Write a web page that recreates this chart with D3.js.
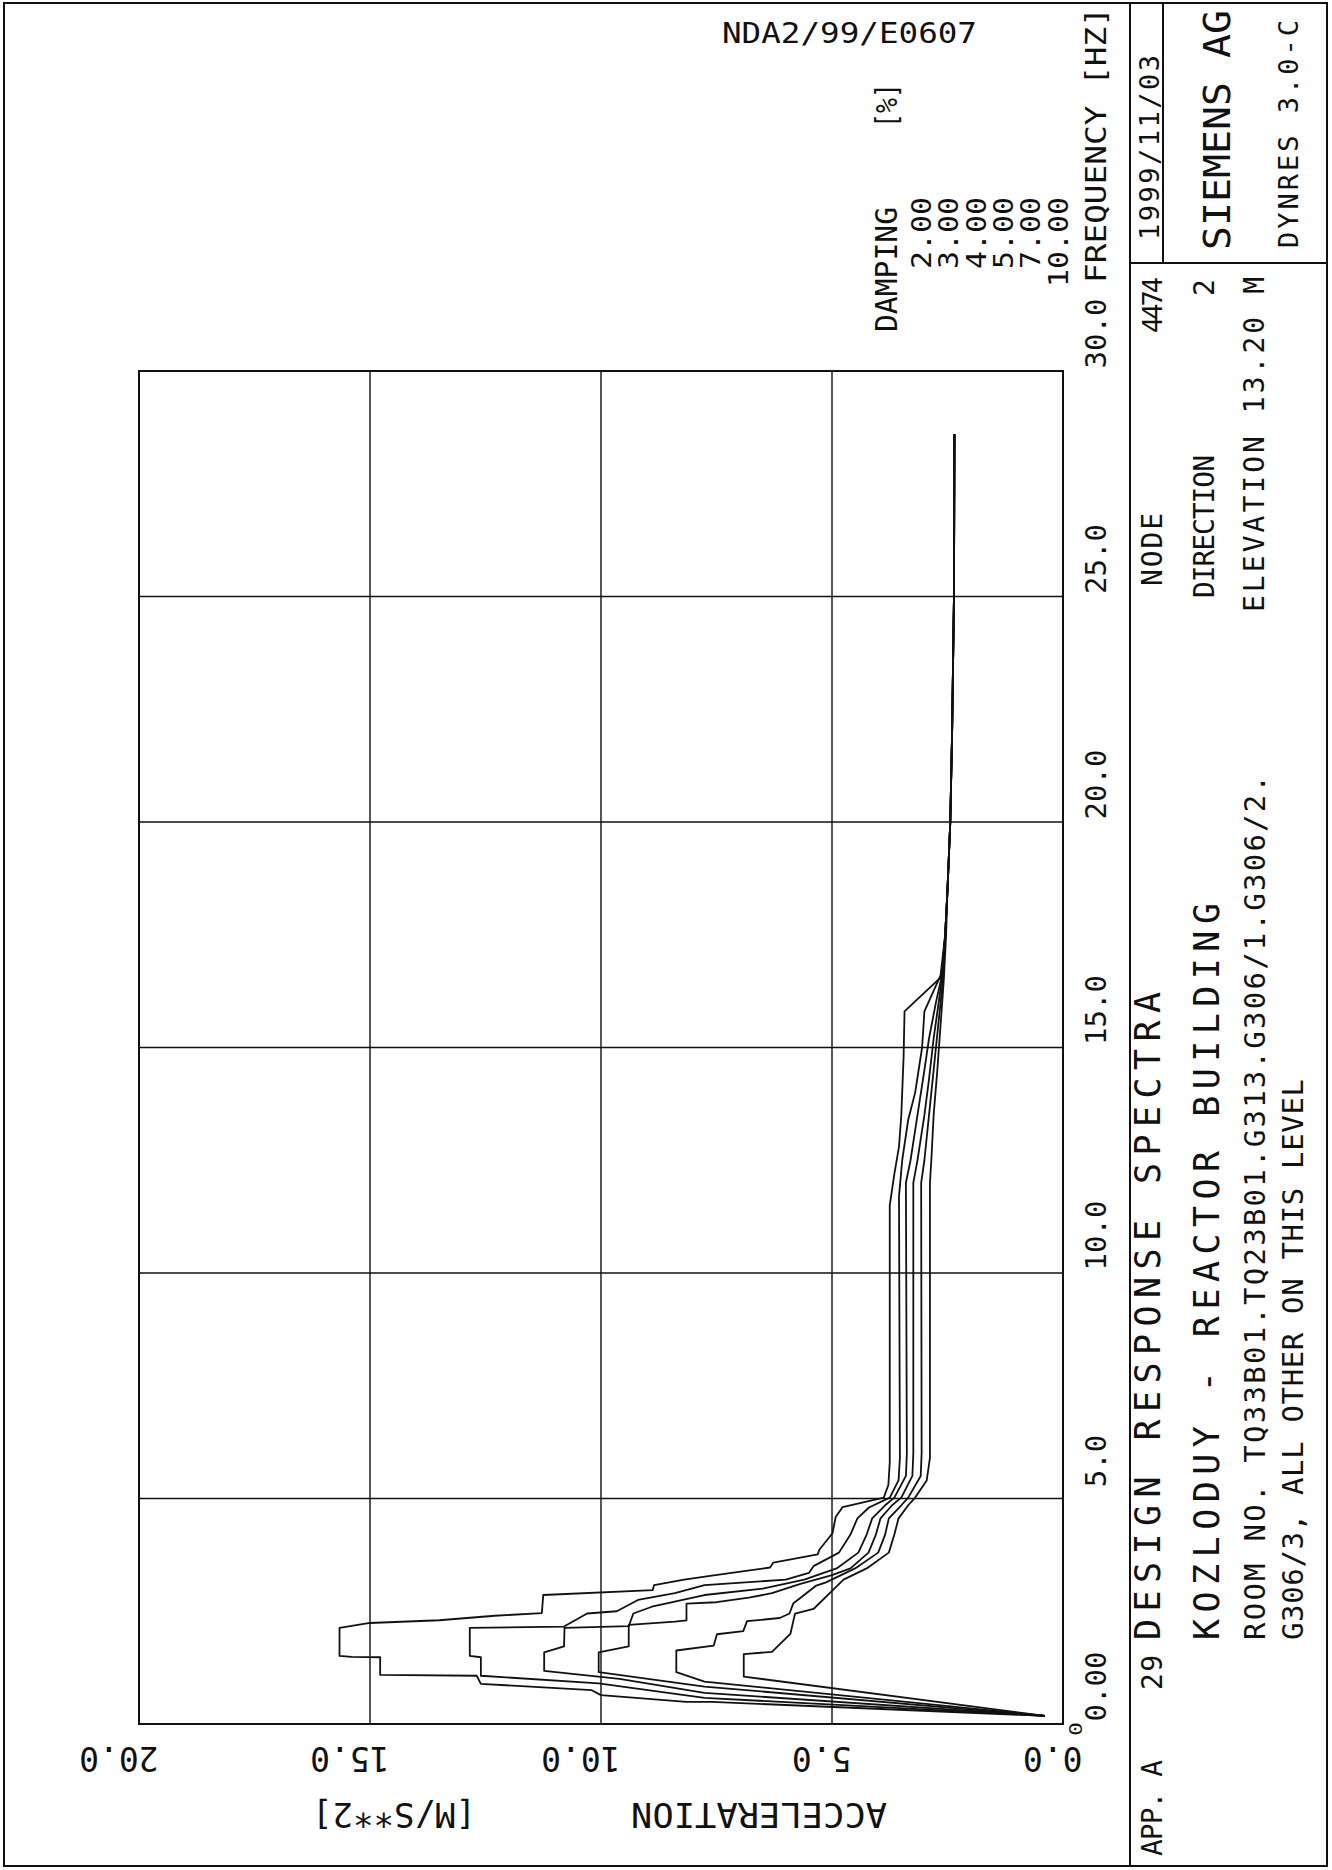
<!DOCTYPE html>
<html>
<head>
<meta charset="utf-8">
<script src="https://cdn.jsdelivr.net/npm/d3@7"></script>
<style>
  html, body { margin: 0; padding: 0; background: #fff; }
  svg { display: block; }
  text { font-family: "DejaVu Sans Mono", "Liberation Mono", monospace; fill: #111; }
</style>
</head>
<body>
<svg id="sheet" width="1332" height="1870"></svg>
<script>
// ---- tick values and labels ----
const FREQ_TICKS  = [0, 5, 10, 15, 20, 25, 30];
const FREQ_LABELS = ["0.00", "5.0", "10.0", "15.0", "20.0", "25.0", "30.0"];
const ACC_TICKS   = [0, 5, 10, 15, 20];
const ACC_LABELS  = ["0.0", "5.0", "10.0", "15.0", "20.0"];
const DAMPING     = ["2.00", "3.00", "4.00", "5.00", "7.00", "10.00"];

// ---- response spectra, [frequency Hz, acceleration m/s^2] ----
const SA_D2 = [[0.18,0.39],[0.49,7.6],[0.49,8.15],[0.64,10.0],[0.75,10.2],[0.89,12.6],[1.07,12.69],[1.09,14.78],[1.48,14.78],[1.49,15.4],[1.51,15.66],[2.13,15.66],[2.24,15.0],[2.3,13.5],[2.4,12.3],[2.46,11.28],[2.86,11.25],[2.97,8.88],[3.08,8.85],[3.2,8.2],[3.29,7.6],[3.47,6.34],[3.58,6.27],[3.76,5.31],[3.87,5.27],[4.23,4.99],[4.59,4.92],[4.81,4.77],[5.02,3.88],[5.3,3.78],[5.8,3.75],[11.5,3.75],[12.2,3.65],[12.8,3.55],[13.5,3.5],[14.8,3.45],[15.8,3.43],[16.6,2.6],[17.5,2.55],[18.5,2.5],[20,2.44],[22,2.4],[25,2.36],[28.6,2.35]];
const SA_D3 = [[0.18,0.39],[0.58,7.76],[0.9,10.05],[1.07,12.6],[1.48,12.6],[1.51,12.84],[2.13,12.84],[2.16,10.8],[2.45,10.3],[2.5,9.66],[2.75,9.2],[2.9,8.4],[3.08,7.76],[3.2,6.0],[3.35,5.5],[3.5,5.4],[3.8,4.85],[4.2,4.6],[4.56,4.45],[4.8,4.2],[5.02,3.75],[5.4,3.56],[5.9,3.53],[11.7,3.55],[12.5,3.48],[13.4,3.35],[14,3.2],[15,3.05],[15.8,3.0],[16.6,2.65],[17.5,2.55],[18.5,2.5],[20,2.44],[22,2.4],[25,2.36],[28.6,2.35]];
const SA_D4 = [[0.18,0.39],[0.69,7.76],[1.0,9.6],[1.18,11.23],[1.59,11.23],[1.72,10.8],[2.13,10.79],[2.17,9.4],[2.45,9.3],[2.6,8.9],[2.86,7.76],[3.0,6.5],[3.2,5.6],[3.45,4.9],[3.8,4.43],[4.2,4.25],[4.56,4.13],[4.85,3.85],[5.02,3.65],[5.5,3.4],[6.0,3.38],[12.0,3.4],[12.5,3.3],[13.5,3.15],[14.5,3.0],[15.2,2.9],[16.0,2.75],[16.6,2.62],[17.5,2.55],[18.5,2.5],[20,2.44],[22,2.4],[25,2.36],[28.6,2.35]];
const SA_D5 = [[0.18,0.39],[0.83,7.76],[1.15,10.05],[1.59,10.05],[1.72,9.4],[2.2,9.4],[2.27,8.4],[2.3,8.15],[2.67,8.15],[2.7,7.5],[2.8,6.8],[2.9,6.3],[3.1,5.7],[3.3,5.0],[3.45,4.6],[3.8,4.21],[4.2,4.05],[4.56,3.95],[4.85,3.7],[5.02,3.5],[5.5,3.26],[6.0,3.24],[12.0,3.24],[12.5,3.15],[13.5,3.0],[14.3,2.9],[15.2,2.8],[16.3,2.65],[17.5,2.55],[18.5,2.5],[20,2.44],[22,2.4],[25,2.36],[28.6,2.35]];
const SA_D7 = [[0.18,0.39],[0.94,7.76],[1.15,8.37],[1.63,8.37],[1.74,7.56],[1.99,7.49],[2.06,6.92],[2.28,6.84],[2.35,6.13],[2.45,5.92],[2.67,5.84],[3.07,5.34],[3.14,5.13],[3.45,4.5],[3.8,4.0],[4.2,3.85],[4.56,3.77],[4.85,3.5],[5.02,3.35],[5.5,3.08],[6.0,3.06],[12.0,3.07],[12.5,3.0],[13.5,2.9],[14.5,2.8],[15.5,2.7],[16.5,2.6],[17.5,2.55],[18.5,2.5],[20,2.44],[22,2.4],[25,2.36],[28.6,2.35]];
const SA_D10 = [[0.18,0.39],[1.05,6.91],[1.55,6.91],[1.6,6.3],[1.8,6.1],[2.0,5.9],[2.45,5.8],[2.55,5.4],[3.0,4.95],[3.2,4.75],[3.45,4.25],[3.8,3.77],[4.2,3.65],[4.56,3.56],[4.85,3.35],[5.02,3.2],[5.4,2.95],[5.9,2.88],[12.0,2.88],[12.5,2.85],[13.5,2.8],[14.5,2.72],[15.5,2.65],[16.5,2.58],[17.5,2.53],[18.5,2.5],[20,2.44],[22,2.4],[25,2.36],[28.6,2.35]];

const SPECTRA = [SA_D2, SA_D3, SA_D4, SA_D5, SA_D7, SA_D10];

// ---- sheet ----
const svg = d3.select("#sheet");
svg.append("rect").attr("width", 1332).attr("height", 1870).attr("fill", "#fff");

const ink = "#111";

// The plot is laid out sideways: frequency runs up the sheet, acceleration runs right-to-left.
const x = d3.scaleLinear().domain([0, 20]).range([1063, 139]);
const y = d3.scaleLinear().domain([0, 30]).range([1724, 371]);

const plot = svg.append("g");

// grid
plot.selectAll("line.vgrid").data(ACC_TICKS.filter(v => v > 0 && v < 20)).join("line")
  .attr("x1", d => x(d)).attr("x2", d => x(d))
  .attr("y1", y(0)).attr("y2", y(30))
  .attr("stroke", ink).attr("stroke-width", 1.4);
plot.selectAll("line.hgrid").data(FREQ_TICKS.filter(v => v > 0 && v < 30)).join("line")
  .attr("x1", x(20)).attr("x2", x(0))
  .attr("y1", d => y(d)).attr("y2", d => y(d))
  .attr("stroke", ink).attr("stroke-width", 1.5);
plot.append("rect")
  .attr("x", x(20)).attr("y", y(30))
  .attr("width", x(0) - x(20)).attr("height", y(0) - y(30))
  .attr("fill", "none").attr("stroke", ink).attr("stroke-width", 2);

// spectra
const line = d3.line().x(d => x(d[1])).y(d => y(d[0]));
plot.selectAll("path.sa").data(SPECTRA).join("path")
  .attr("class", "sa")
  .attr("d", line)
  .attr("fill", "none").attr("stroke", ink)
  .attr("stroke-width", 1.8).attr("stroke-linejoin", "round");

// frequency axis labels (rotated, read bottom-to-top)
const fAxis = d3.axisRight(y).tickValues(FREQ_TICKS)
  .tickFormat((d, i) => FREQ_LABELS[i]).tickSize(0);
const fg = svg.append("g").attr("transform", "translate(1106,0)").call(fAxis);
fg.select(".domain").remove();
fg.selectAll("text")
  .attr("x", 0).attr("y", 0).attr("dy", 0)
  .attr("transform", "translate(0,-38) rotate(-90)")
  .attr("text-anchor", "middle")
  .style("font-size", "29px")
  .attr("fill", ink);

// acceleration axis labels (printed upside-down)
const aAxis = d3.axisBottom(x).tickValues(ACC_TICKS)
  .tickFormat((d, i) => ACC_LABELS[i]).tickSize(0);
const ag = svg.append("g").attr("transform", "translate(0,1747)").call(aAxis);
ag.select(".domain").remove();
ag.selectAll("text")
  .attr("x", 0).attr("y", 0).attr("dy", 0)
  .attr("transform", "translate(19,0) rotate(180)")
  .attr("text-anchor", "start")
  .style("font-size", "33px")
  .attr("fill", ink);

// helpers for lettering: rotated text from y0 (start) up to y1 (end)
function rtext(str, bx, y0, y1, size, adjust) {
  return svg.append("text")
    .attr("transform", `translate(${bx},${y0}) rotate(-90)`)
    .attr("textLength", y0 - y1).attr("lengthAdjust", adjust || "spacing")
    .style("font-size", size + "px").text(str);
}
function utext(str, x0, x1, by, size) {
  return svg.append("text")
    .attr("transform", `translate(${x0},${by}) rotate(180)`)
    .attr("textLength", x0 - x1).attr("lengthAdjust", "spacingAndGlyphs")
    .style("font-size", size + "px").text(str);
}

utext("ACCELERATION", 887, 631, 1803, 33);
utext("[M/S**2]", 476, 312, 1803, 33);
rtext("0", 1082, 1736, 1722, 17, "spacingAndGlyphs");

rtext("FREQUENCY [HZ]", 1106, 283, 7, 29, "spacingAndGlyphs");

// damping legend
rtext("DAMPING", 897, 332, 207, 30, "spacingAndGlyphs");
rtext("[%]", 897, 128, 83, 30, "spacingAndGlyphs");
DAMPING.forEach((d, i) => {
  rtext(d, 931 + 27.3 * i, 197 + d.length * 18, 197, 27, "spacingAndGlyphs");
});

// drawing number
svg.append("text").attr("x", 722).attr("y", 43)
  .attr("textLength", 255).attr("lengthAdjust", "spacingAndGlyphs")
  .style("font-size", "29px").text("NDA2/99/E0607");

// ---- sheet border and title block ----
const frame = svg.append("g").attr("stroke", ink).attr("stroke-width", 2).attr("fill", "none");
frame.append("rect").attr("x", 4).attr("y", 3).attr("width", 1323).attr("height", 1863);
frame.append("line").attr("x1", 1130).attr("x2", 1130).attr("y1", 3).attr("y2", 1866);
frame.append("line").attr("x1", 1163).attr("x2", 1163).attr("y1", 3).attr("y2", 263);
frame.append("line").attr("x1", 1130).attr("x2", 1327).attr("y1", 263).attr("y2", 263);

rtext("1999/11/03", 1159, 240, 55, 27);
rtext("SIEMENS AG", 1230, 250, 10, 38, "spacingAndGlyphs");
rtext("DYNRES 3.0-C", 1298, 248, 20, 27);

rtext("NODE", 1162, 586, 513, 28);
rtext("4474", 1162, 333, 277, 27);
rtext("DIRECTION", 1214, 598, 455, 28);
rtext("2", 1214, 296, 277, 28);
rtext("ELEVATION 13.20 M", 1264, 612, 277, 28);

rtext("29", 1162, 1690, 1655, 28);
rtext("DESIGN RESPONSE SPECTRA", 1160, 1640, 992, 35);
rtext("KOZLODUY - REACTOR BUILDING", 1219, 1640, 903, 35);
rtext("ROOM NO. TQ33B01.TQ23B01.G313.G306/1.G306/2.", 1265, 1640, 775, 29);
rtext("G306/3, ALL OTHER ON THIS LEVEL", 1303, 1640, 1079, 29);
rtext("APP. A", 1162, 1856, 1760, 28);
</script>
</body>
</html>
